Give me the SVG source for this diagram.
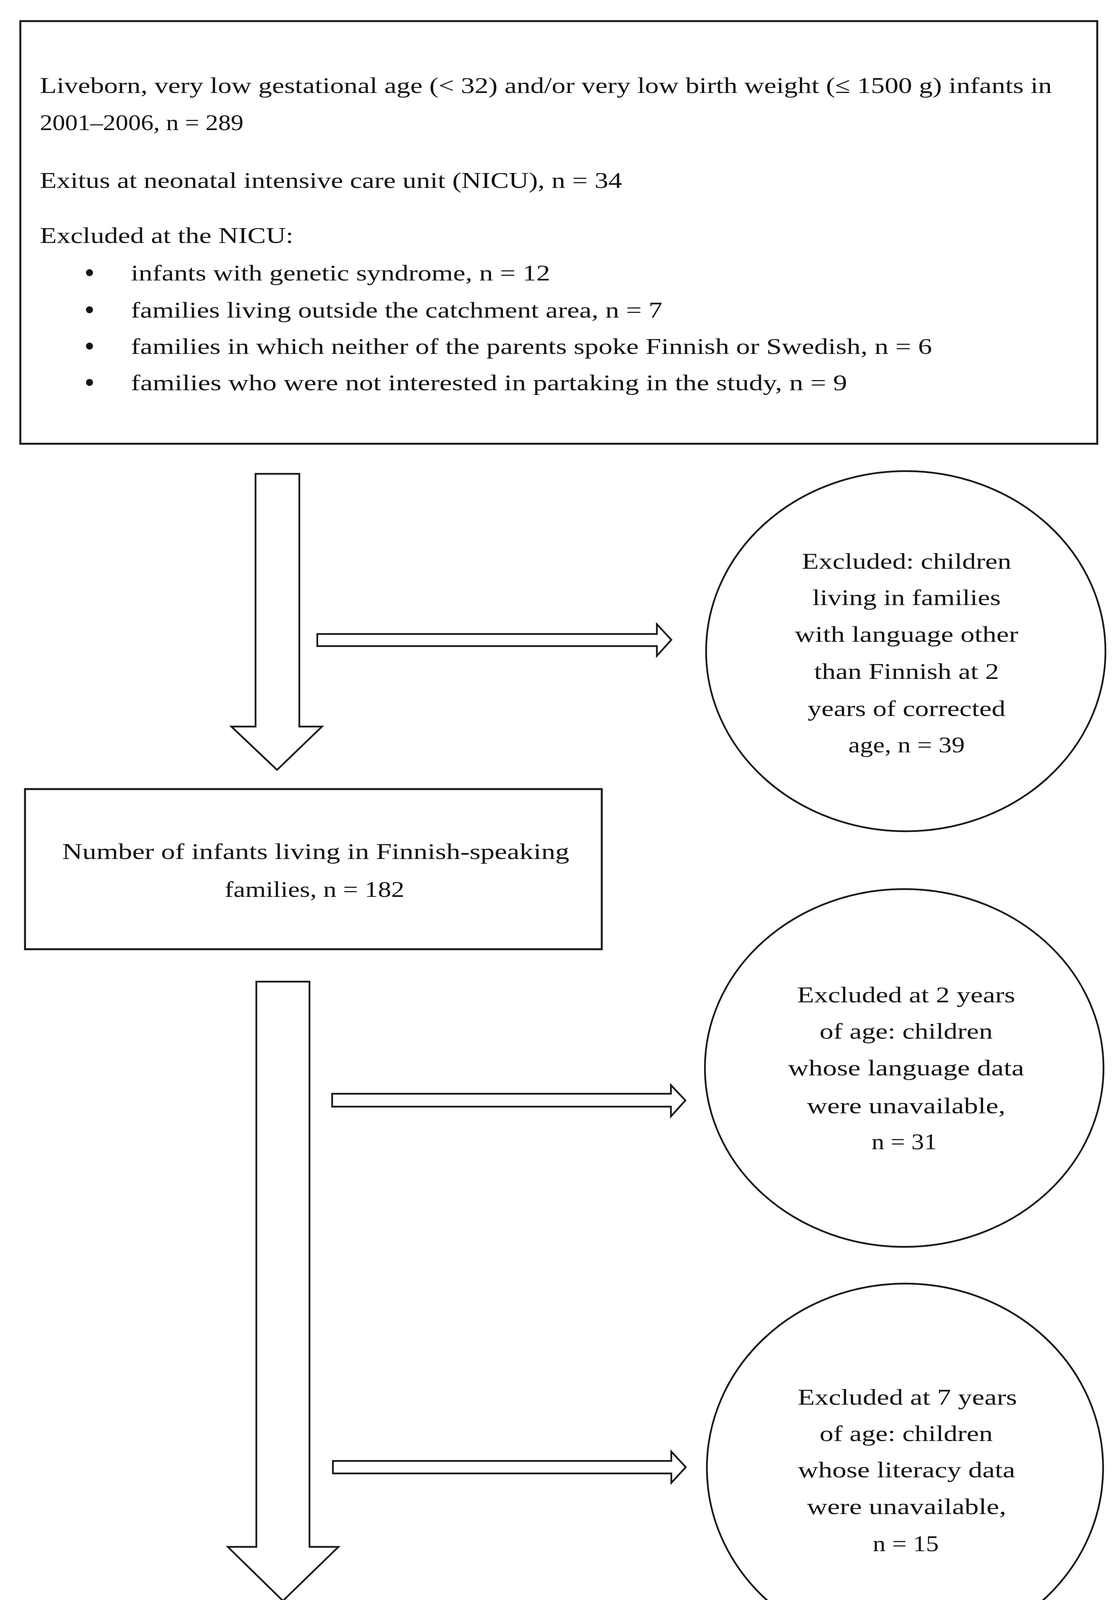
<svg xmlns="http://www.w3.org/2000/svg" width="2856" height="4744" viewBox="0 0 2856 4744">
<style>
.box{fill:#fff;stroke:#1a1a1a;stroke-width:5}
.ell{fill:#fff;stroke:#1a1a1a;stroke-width:4.5}
.arr{fill:#fff;stroke:#1a1a1a;stroke-width:4.5;stroke-linejoin:miter}
.t{font-family:"Liberation Serif","Times New Roman",serif;font-size:58px;fill:#141414}
.c{text-anchor:middle}
</style>
<rect width="2856" height="4744" fill="#fff"/>
<g id="connectors">
<polygon class="arr" points="654,1213 766,1213 766,1860 824,1860 709,1971 592,1860 654,1860"/>
<polygon class="arr" points="656,2513 792,2513 792,3960 866,3960 724,4098 583,3960 656,3960"/>
<polygon class="arr" points="812,1623 1681,1623 1681,1598 1718,1638 1681,1679 1681,1654 812,1654"/>
<polygon class="arr" points="850,2800 1717,2800 1717,2778 1754,2817 1717,2858 1717,2833 850,2833"/>
<polygon class="arr" points="852,3740 1718,3740 1718,3716 1755,3756 1718,3796 1718,3772 852,3772"/>
</g>
<g id="node-cohort">
<rect class="box" x="52" y="54" width="2756" height="1082"/>
<text class="t" x="102" y="238" textLength="2590" lengthAdjust="spacingAndGlyphs">Liveborn, very low gestational age (&lt; 32) and/or very low birth weight (≤ 1500 g) infants in</text>
<text class="t" x="102" y="333" textLength="521" lengthAdjust="spacingAndGlyphs">2001–2006, n = 289</text>
<text class="t" x="102" y="481" textLength="1490" lengthAdjust="spacingAndGlyphs">Exitus at neonatal intensive care unit (NICU), n = 34</text>
<text class="t" x="102" y="622" textLength="649" lengthAdjust="spacingAndGlyphs">Excluded at the NICU:</text>
<circle cx="229" cy="698" r="9" fill="#141414"/>
<circle cx="229" cy="793" r="9" fill="#141414"/>
<circle cx="229" cy="886" r="9" fill="#141414"/>
<circle cx="229" cy="979" r="9" fill="#141414"/>
<text class="t" x="335" y="718" textLength="1073" lengthAdjust="spacingAndGlyphs">infants with genetic syndrome, n = 12</text>
<text class="t" x="335" y="813" textLength="1360" lengthAdjust="spacingAndGlyphs">families living outside the catchment area, n = 7</text>
<text class="t" x="335" y="906" textLength="2050" lengthAdjust="spacingAndGlyphs">families in which neither of the parents spoke Finnish or Swedish, n = 6</text>
<text class="t" x="335" y="999" textLength="1833" lengthAdjust="spacingAndGlyphs">families who were not interested in partaking in the study, n = 9</text>
</g>
<g id="node-excluded-language">
<ellipse class="ell" cx="2318" cy="1667" rx="511" ry="461"/>
<text class="t c" x="2320" y="1456" textLength="536" lengthAdjust="spacingAndGlyphs">Excluded: children</text>
<text class="t c" x="2320" y="1549" textLength="482" lengthAdjust="spacingAndGlyphs">living in families</text>
<text class="t c" x="2320" y="1643" textLength="572" lengthAdjust="spacingAndGlyphs">with language other</text>
<text class="t c" x="2320" y="1738" textLength="473" lengthAdjust="spacingAndGlyphs">than Finnish at 2</text>
<text class="t c" x="2320" y="1833" textLength="506" lengthAdjust="spacingAndGlyphs">years of corrected</text>
<text class="t c" x="2320" y="1926" textLength="298" lengthAdjust="spacingAndGlyphs">age, n = 39</text>
</g>
<g id="node-finnish">
<rect class="box" x="64" y="2020" width="1476" height="410"/>
<text class="t c" x="808" y="2199" textLength="1298" lengthAdjust="spacingAndGlyphs">Number of infants living in Finnish-speaking</text>
<text class="t c" x="805" y="2296" textLength="460" lengthAdjust="spacingAndGlyphs">families, n = 182</text>
</g>
<g id="node-excluded-2y">
<ellipse class="ell" cx="2314" cy="2734" rx="510" ry="458"/>
<text class="t c" x="2319" y="2566" textLength="558" lengthAdjust="spacingAndGlyphs">Excluded at 2 years</text>
<text class="t c" x="2319" y="2659" textLength="443" lengthAdjust="spacingAndGlyphs">of age: children</text>
<text class="t c" x="2319" y="2753" textLength="604" lengthAdjust="spacingAndGlyphs">whose language data</text>
<text class="t c" x="2319" y="2850" textLength="508" lengthAdjust="spacingAndGlyphs">were unavailable,</text>
<text class="t c" x="2314" y="2942" textLength="167" lengthAdjust="spacingAndGlyphs">n = 31</text>
</g>
<g id="node-excluded-7y">
<ellipse class="ell" cx="2316" cy="3758" rx="507" ry="472"/>
<text class="t c" x="2322" y="3596" textLength="561" lengthAdjust="spacingAndGlyphs">Excluded at 7 years</text>
<text class="t c" x="2319" y="3689" textLength="443" lengthAdjust="spacingAndGlyphs">of age: children</text>
<text class="t c" x="2320" y="3782" textLength="556" lengthAdjust="spacingAndGlyphs">whose literacy data</text>
<text class="t c" x="2320" y="3876" textLength="510" lengthAdjust="spacingAndGlyphs">were unavailable,</text>
<text class="t c" x="2318" y="3971" textLength="169" lengthAdjust="spacingAndGlyphs">n = 15</text>
</g>
<g id="node-included">
<rect class="box" x="64" y="4193" width="1456" height="502"/>
<text class="t c" x="796" y="4369" textLength="1054" lengthAdjust="spacingAndGlyphs">Children included in the study (both</text>
<text class="t c" x="800" y="4465" textLength="1076" lengthAdjust="spacingAndGlyphs">language and literacy data available),</text>
<text class="t c" x="795" y="4559" textLength="199" lengthAdjust="spacingAndGlyphs">n = 136</text>
</g>
</svg>
